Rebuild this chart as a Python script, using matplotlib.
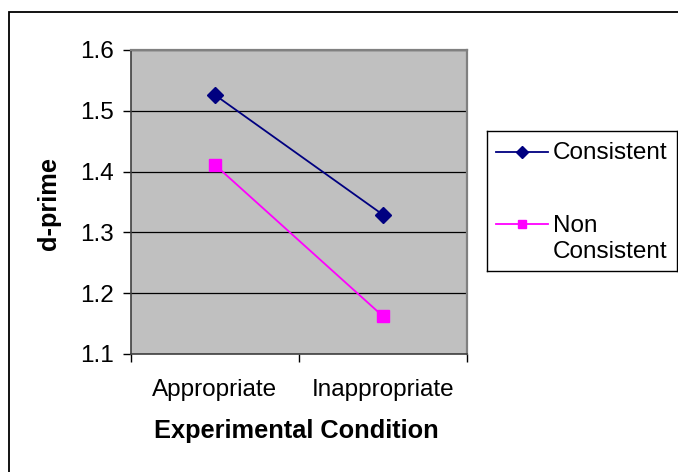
import matplotlib
matplotlib.use('Agg')
import matplotlib.pyplot as plt
from matplotlib.patches import Rectangle
from matplotlib.lines import Line2D

# Values
conditions = ['Appropriate', 'Inappropriate']
consistent = [1.526, 1.329]
non_consistent = [1.411, 1.162]
series_names = ['Consistent', 'Non\nConsistent']
yticks = [1.1, 1.2, 1.3, 1.4, 1.5, 1.6]

W, H = 678, 472
plt.rcParams['font.family'] = ['Liberation Sans', 'DejaVu Sans']
FS = 17.5
FS_BOLD = 18.3

fig = plt.figure(figsize=(W / 100, H / 100), dpi=100)

# outer chart border (runs off the right/bottom edge)
fig.add_artist(Rectangle((9 / W, 1 - 600 / H), 800 / W, (600 - 12) / H,
                         transform=fig.transFigure, fill=False,
                         edgecolor='black', linewidth=1.3))

# plot area
ax = fig.add_axes([131 / W, 1 - 354 / H, 336 / W, 304 / H])
ax.set_facecolor('#C0C0C0')
x = [1, 2]
ax.plot(x, consistent, color='#000080', marker='D', markersize=8.5,
        linewidth=1.3, zorder=3, clip_on=False)
ax.plot(x, non_consistent, color='#FF00FF', marker='s', markersize=8,
        linewidth=1.3, zorder=3, clip_on=False)

ax.set_xlim(0.5, 2.5)
ax.set_ylim(1.1, 1.6)
ax.set_yticks(yticks)
ax.set_yticklabels([f'{v:.1f}' for v in yticks], fontsize=FS)
ax.yaxis.grid(True, color='black', linewidth=0.9)
ax.set_axisbelow(True)

ax.set_xticks([0.5, 1.5, 2.5])
ax.set_xticklabels([])
ax.set_xticks(x, minor=True)
ax.set_xticklabels(conditions, minor=True, fontsize=FS)
ax.tick_params(axis='x', which='minor', length=0, pad=18)
ax.tick_params(axis='both', which='major', direction='out', length=5.5,
               width=1, color='black')
ax.tick_params(axis='y', pad=7)

for s in ['top', 'right']:
    ax.spines[s].set_color('#808080')
    ax.spines[s].set_linewidth(1.6)
for s in ['left', 'bottom']:
    ax.spines[s].set_color('#404040')
    ax.spines[s].set_linewidth(1.2)

# axis titles
fig.text(296 / W, 1 - 431 / H, 'Experimental Condition', fontsize=FS_BOLD,
         fontweight='bold', ha='center', va='center')
fig.text(49 / W, 1 - 204 / H, 'd-prime', fontsize=FS_BOLD, fontweight='bold',
         rotation=90, ha='center', va='center')

# legend box, laid out in pixel units
lax = fig.add_axes([487 / W, 1 - 271 / H, 190 / W, 140 / H])
lax.set_xlim(0, 190)
lax.set_ylim(140, 0)
lax.set_xticks([])
lax.set_yticks([])
for s in lax.spines.values():
    s.set_color('black')
    s.set_linewidth(1)
lax.add_line(Line2D([9, 61], [21, 21], color='#000080', linewidth=1.3))
lax.add_line(Line2D([35], [21], color='#000080', marker='D', markersize=6.5))
lax.text(66, 22, series_names[0], fontsize=FS, va='center', ha='left')
lax.add_line(Line2D([9, 61], [93, 93], color='#FF00FF', linewidth=1.3))
lax.add_line(Line2D([35], [93], color='#FF00FF', marker='s', markersize=6))
lax.text(66, 108, series_names[1], fontsize=FS, va='center', ha='left',
         linespacing=1.2)

fig.savefig('out.png', dpi=100)
